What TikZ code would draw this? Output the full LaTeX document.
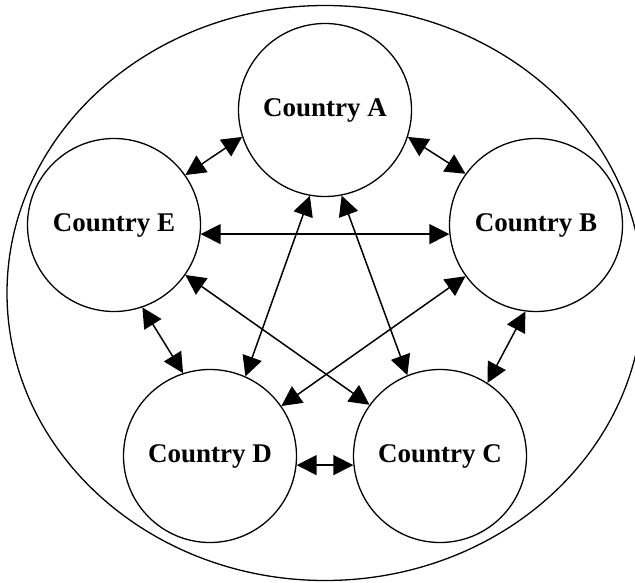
\documentclass[tikz,border=0pt]{standalone}
\usepackage{fontspec}
\setmainfont{Liberation Serif}
\usetikzlibrary{arrows.meta}
\begin{document}
\begin{tikzpicture}[x=1pt,y=-1pt,
  country/.style={draw,circle,line width=1.3pt,minimum size=173pt,inner sep=0pt,
    font=\fontsize{27}{31}\selectfont\bfseries},
  link/.style={line width=1.5pt,{Triangle[length=20pt,width=20pt]}-{Triangle[length=20pt,width=20pt]}}]
\useasboundingbox (0,0) rectangle (635,583);
\draw[line width=1.3pt] (325,293) ellipse [x radius=318, y radius=287.5];
\node[country] (A) at (325,110) {Country A};
\node[country] (E) at (114,225) {Country E};
\node[country] (B) at (536,225) {Country B};
\node[country] (D) at (210,456) {Country D};
\node[country] (C) at (440,456) {Country C};
\draw[link] (A.198) -- (E.35);
\draw[link] (A.342) -- (B.144);
\draw[link] (E.-6.6) -- (B.186.6);
\draw[link] (A.260) -- (D.66);
\draw[link] (A.281) -- (C.112);
\draw[link] (E.325) -- (C.144);
\draw[link] (B.216) -- (D.35);
\draw[link] (E.289) -- (D.108);
\draw[link] (B.263) -- (C.57);
\draw[link] (D.354) -- (C.186);
\end{tikzpicture}
\end{document}
